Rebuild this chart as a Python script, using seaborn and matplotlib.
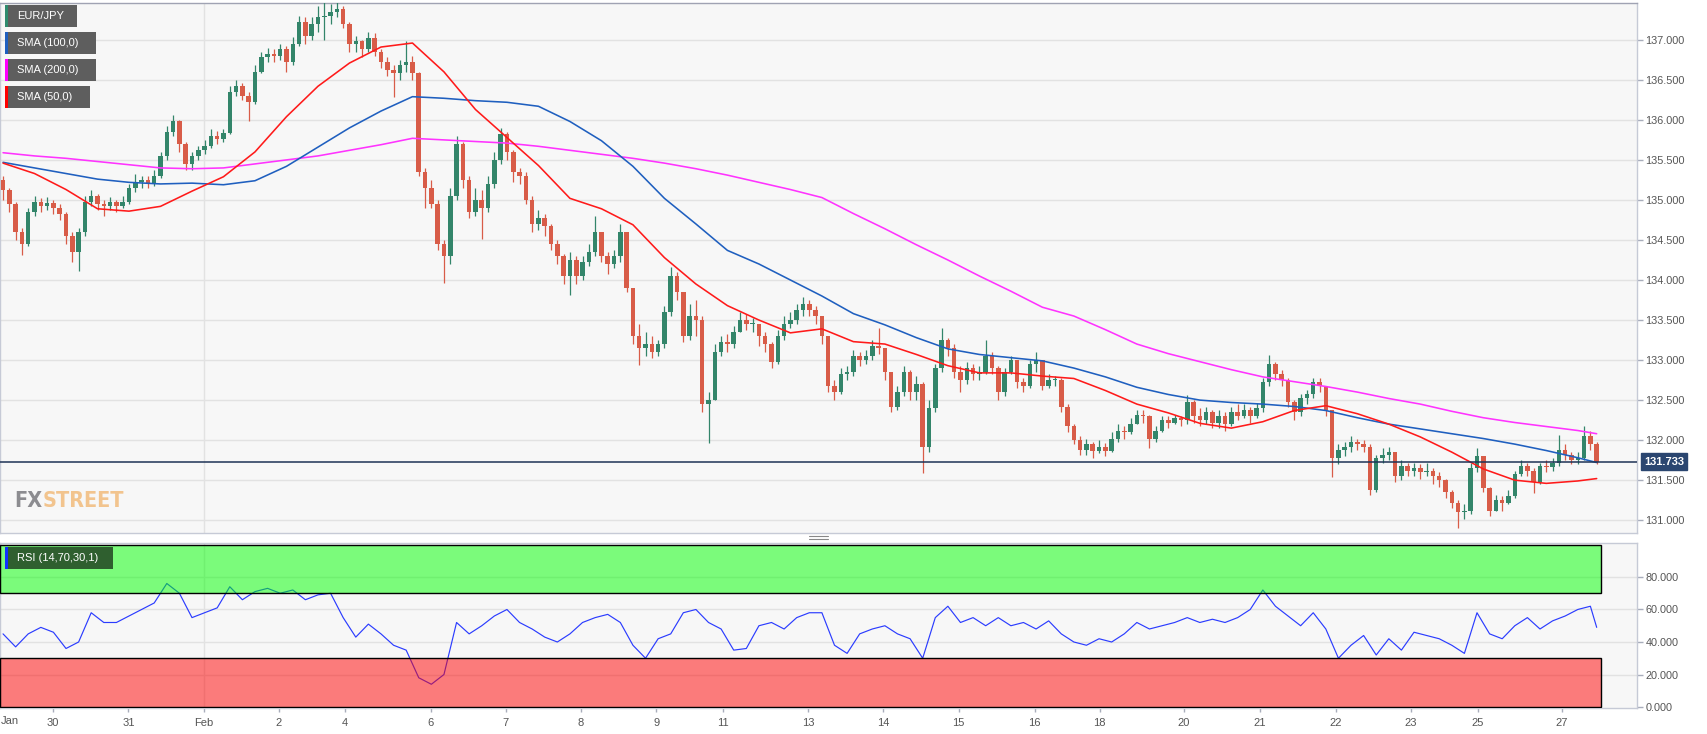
import numpy as np
import pandas as pd
import matplotlib
matplotlib.use("Agg")
import matplotlib.pyplot as plt
import seaborn as sns
from matplotlib.patches import Rectangle
from matplotlib.lines import Line2D

sns.set_theme(style="white")
plt.rcParams['font.family'] = ['Liberation Sans', 'DejaVu Sans']

# ---------------- data (2-hour candles, EUR/JPY) ----------------
close = [
135.12,134.95,134.60,134.45,134.85,134.98,134.92,134.96,134.90,134.82,
134.55,134.35,134.60,134.98,135.05,134.95,134.92,134.98,134.93,134.98,
135.15,135.22,135.25,135.20,135.30,135.55,135.85,135.98,135.70,135.45,
135.55,135.62,135.68,135.80,135.76,135.84,136.35,136.42,136.30,136.22,
136.60,136.78,136.82,136.80,136.88,136.72,136.95,137.22,137.05,137.20,
137.28,137.30,137.35,137.38,137.20,136.95,136.98,136.88,137.02,136.85,
136.72,136.62,136.58,136.68,136.72,136.58,135.35,135.15,134.95,134.45,
134.30,135.05,135.70,135.25,134.85,135.00,134.90,135.20,135.50,135.82,
135.60,135.35,135.30,135.00,134.70,134.78,134.68,134.45,134.30,134.05,
134.25,134.05,134.22,134.35,134.60,134.30,134.20,134.30,134.60,133.90,
133.30,133.15,133.20,133.10,133.20,133.60,134.05,133.85,133.30,133.55,
133.50,132.45,132.50,133.10,133.22,133.20,133.35,133.50,133.45,133.45,
133.30,133.20,132.98,133.30,133.45,133.50,133.62,133.70,133.62,133.55,
133.30,132.68,132.60,132.82,132.85,133.05,133.00,133.05,133.18,133.15,
132.85,132.42,132.60,132.85,132.60,132.70,131.92,132.40,132.90,133.25,
133.15,132.85,132.75,132.90,132.82,132.85,133.05,132.90,132.60,132.85,
133.00,132.72,132.68,132.95,133.00,132.68,132.75,132.75,132.42,132.18,
132.00,131.88,131.95,131.86,131.92,131.86,132.02,132.12,132.10,132.20,
132.32,132.30,132.02,132.12,132.25,132.22,132.28,132.25,132.48,132.30,
132.25,132.35,132.22,132.30,132.20,132.35,132.30,132.38,132.30,132.40,
132.72,132.95,132.82,132.75,132.48,132.35,132.52,132.58,132.72,132.68,
132.38,131.78,131.88,131.92,131.98,131.95,131.92,131.38,131.78,131.82,
131.85,131.55,131.68,131.62,131.65,131.60,131.62,131.55,131.50,131.35,
131.22,131.10,131.12,131.65,131.80,131.40,131.12,131.25,131.22,131.30,
131.58,131.68,131.62,131.48,131.68,131.66,131.72,131.88,131.82,131.75,
131.78,132.05,131.95,131.733]

high = [
135.30,135.15,134.98,134.65,134.90,135.05,135.02,135.04,135.00,134.95,
134.85,134.60,134.65,135.05,135.12,135.08,135.00,135.04,135.00,135.05,
135.20,135.32,135.30,135.30,135.38,135.60,135.92,136.06,136.00,135.72,
135.60,135.68,135.75,135.88,135.86,135.88,136.42,136.50,136.46,136.35,
136.68,136.85,136.90,136.88,136.95,136.92,137.03,137.30,137.28,137.28,
137.42,137.52,137.45,137.50,137.42,137.22,137.05,137.00,137.10,137.08,
136.88,136.78,136.68,136.75,136.98,136.80,136.60,135.40,135.25,135.00,
134.50,135.15,135.80,135.72,135.30,135.15,135.12,135.30,135.60,135.90,
135.85,135.62,135.40,135.35,135.05,134.88,134.82,134.70,134.50,134.32,
134.35,134.30,134.30,134.45,134.80,134.60,134.35,134.38,134.70,134.60,
133.90,133.45,133.35,133.30,133.25,133.68,134.16,134.10,133.85,133.70,
133.75,133.55,132.60,133.20,133.30,133.32,133.42,133.60,133.58,133.52,
133.45,133.35,133.22,133.38,133.55,133.60,133.70,133.79,133.75,133.68,
133.55,133.30,132.75,132.90,132.92,133.12,133.10,133.12,133.25,133.40,
133.15,132.85,132.68,132.92,132.88,132.80,132.72,132.50,132.95,133.40,
133.28,133.20,132.92,132.98,132.95,132.92,133.25,133.10,132.92,132.90,
133.05,133.00,132.78,133.00,133.10,133.00,132.82,132.80,132.78,132.45,
132.20,132.05,132.02,131.98,132.00,131.96,132.10,132.20,132.18,132.28,
132.38,132.38,132.32,132.18,132.30,132.30,132.32,132.30,132.56,132.50,
132.40,132.42,132.38,132.38,132.35,132.42,132.45,132.45,132.42,132.47,
132.78,133.06,132.98,132.88,132.78,132.50,132.58,132.62,132.78,132.78,
132.62,132.35,131.95,131.98,132.05,132.02,132.00,131.95,131.82,131.90,
131.92,131.85,131.75,131.72,131.72,131.70,131.72,131.65,131.60,131.52,
131.38,131.25,131.20,131.72,131.90,131.80,131.42,131.32,131.30,131.38,
131.62,131.75,131.72,131.65,131.72,131.75,131.78,132.06,131.95,131.85,
131.85,132.18,132.12,131.98]

low = [
135.00,134.85,134.50,134.31,134.42,134.80,134.85,134.88,134.82,134.75,
134.45,134.23,134.11,134.55,134.92,134.88,134.80,134.88,134.85,134.90,
134.95,135.10,135.15,135.15,135.18,135.28,135.50,135.80,135.60,135.38,
135.38,135.50,135.58,135.65,135.70,135.72,135.82,136.30,136.25,135.98,
136.20,136.58,136.72,136.72,136.75,136.60,136.68,136.92,136.95,137.00,
137.10,137.00,137.20,137.28,137.15,136.85,136.85,136.78,136.85,136.80,
136.65,136.55,136.29,136.50,136.60,136.50,135.30,134.90,134.90,134.38,
133.96,134.20,135.00,135.15,134.78,134.80,134.51,134.85,135.15,135.45,
135.50,135.22,135.20,134.95,134.60,134.62,134.55,134.38,134.20,133.95,
133.81,133.95,134.00,134.18,134.30,134.22,134.08,134.15,134.22,133.85,
133.20,132.94,133.05,133.02,133.05,133.15,133.55,133.75,133.22,133.25,
133.30,132.35,131.96,132.50,133.05,133.10,133.15,133.35,133.38,133.35,
133.18,133.10,132.90,132.95,133.25,133.40,133.45,133.55,133.55,133.45,
133.20,132.60,132.50,132.58,132.75,132.80,132.92,132.95,133.00,133.08,
132.75,132.35,132.38,132.55,132.50,132.50,131.59,131.85,132.35,132.85,
133.05,132.78,132.60,132.70,132.75,132.75,132.82,132.82,132.50,132.55,
132.82,132.65,132.60,132.65,132.85,132.62,132.65,132.68,132.35,132.10,
131.95,131.82,131.82,131.78,131.84,131.80,131.85,131.98,132.02,132.08,
132.20,132.22,131.90,131.98,132.10,132.15,132.20,132.18,132.20,132.22,
132.18,132.20,132.15,132.15,132.12,132.18,132.25,132.28,132.22,132.28,
132.35,132.68,132.75,132.68,132.42,132.25,132.30,132.45,132.52,132.60,
132.30,131.54,131.70,131.80,131.85,131.88,131.85,131.32,131.35,131.72,
131.75,131.48,131.50,131.55,131.55,131.52,131.55,131.45,131.42,131.28,
131.15,130.90,131.02,131.08,131.60,131.35,131.05,131.12,131.12,131.20,
131.28,131.55,131.55,131.34,131.45,131.60,131.62,131.68,131.75,131.70,
131.70,131.75,131.88,131.70]

first_open = 135.25
last_price = 131.733

# moving averages sampled every 5 candles (plus the last candle)
sma_idx = list(range(0, 251, 5)) + [253]
sma50 = [135.46,135.33,135.13,134.89,134.86,134.92,135.11,135.29,135.60,136.04,
         136.42,136.71,136.91,136.96,136.60,136.13,135.78,135.43,135.02,134.89,
         134.69,134.28,133.95,133.68,133.50,133.34,133.39,133.23,133.20,133.07,
         132.93,132.84,132.84,132.80,132.77,132.62,132.45,132.34,132.21,132.15,
         132.23,132.37,132.43,132.33,132.20,132.04,131.85,131.64,131.50,131.46,
         131.49,131.52]
sma100 = [135.47,135.40,135.33,135.26,135.22,135.20,135.21,135.19,135.24,135.42,
          135.66,135.90,136.11,136.29,136.27,136.24,136.22,136.17,135.98,135.74,
          135.42,135.02,134.70,134.37,134.20,134.00,133.80,133.58,133.44,133.28,
          133.14,133.07,133.03,132.99,132.90,132.79,132.66,132.57,132.50,132.47,
          132.45,132.42,132.37,132.28,132.20,132.14,132.08,132.02,131.95,131.87,
          131.78,131.72]
sma200 = [135.59,135.55,135.52,135.48,135.44,135.40,135.39,135.40,135.45,135.50,
          135.55,135.62,135.69,135.77,135.75,135.73,135.71,135.67,135.62,135.57,
          135.52,135.46,135.39,135.31,135.22,135.13,135.03,134.83,134.64,134.44,
          134.25,134.05,133.86,133.66,133.55,133.38,133.20,133.08,132.98,132.88,
          132.79,132.73,132.67,132.60,132.52,132.45,132.36,132.28,132.22,132.17,
          132.12,132.08]

# RSI(14) sampled every 2 candles (plus the last candle)
rsi_idx = list(range(0, 253, 2)) + [253]
rsi = [45,37,45,49,46,36,40,58,52,52,
       56,60,64,76,70,55,58,61,74,66,
       71,73,70,72,66,69,70,55,43,51,
       45,38,35,18,14,20,52,45,50,56,
       60,52,48,43,40,45,52,55,57,52,
       38,30,42,45,58,60,52,48,35,36,
       50,52,48,55,58,58,38,33,45,48,
       50,45,42,30,55,62,52,55,50,55,
       50,52,48,53,45,40,38,42,40,45,
       52,48,50,52,55,52,54,52,55,60,
       72,62,56,50,58,48,30,38,44,32,
       42,35,46,44,42,38,33,58,45,42,
       50,55,48,53,56,60,62,49]

day_ticks = [7.87, 19.9, 31.9, 43.8, 54.3, 67.9, 79.8, 91.7, 103.7, 114.3, 127.8,
             139.7, 151.7, 163.8, 174.1, 187.5, 199.5, 211.6, 223.5, 234.1, 247.5]
day_labels = ["30", "31", "Feb", "2", "4", "6", "7", "8", "9", "11", "13",
              "14", "15", "16", "18", "20", "21", "22", "23", "25", "27"]
price_ticks = [131.0, 131.5, 132.0, 132.5, 133.0, 133.5, 134.0, 134.5, 135.0,
               135.5, 136.0, 136.5, 137.0]
rsi_ticks = [0, 20, 40, 60, 80]
legend_names = ["EUR/JPY", "SMA (100,0)", "SMA (200,0)", "SMA (50,0)"]

# ---------------- figure ----------------
W, H = 1707, 734
fig = plt.figure(figsize=(W / 100, H / 100), dpi=100)
fig.patch.set_facecolor("white")

def fx(px):
    return px / W

def fy(py):
    return 1 - py / H

ax = fig.add_axes([0, fy(533), fx(1637), (533 - 3) / H])
ax_r = fig.add_axes([0, fy(708), fx(1637), (708 - 543) / H])

BG = "#f7f7f7"
GRID = "#e2e2e2"
SPINE = "#c6cad6"
GREEN = "#33856a"
RED = "#d85c48"
C50, C100, C200 = "#ff1a1a", "#1f5fbf", "#ff33ff"
XMIN, XMAX = -0.48, 259.4

n = len(close)
opens = [first_open] + close[:-1]
df = pd.DataFrame({"k": np.arange(n), "open": opens, "close": close,
                   "high": high, "low": low})
df["top"] = df[["open", "close", "high"]].max(axis=1)
df["bot"] = df[["open", "close", "low"]].min(axis=1)
df["up"] = df["close"] >= df["open"]
colors = np.where(df["up"], GREEN, RED)

for a in (ax, ax_r):
    a.set_facecolor(BG)
    for s in a.spines.values():
        s.set_color(SPINE)
        s.set_linewidth(1)
    a.set_xlim(XMIN, XMAX)
ax.spines["top"].set_color("#a0a3b3")

# main panel
ax.set_ylim(130.84, 137.46)
for t in price_ticks:
    ax.axhline(t, color=GRID, lw=1, zorder=0)
ax.axvline(day_ticks[2], color=GRID, lw=1, zorder=0)

ax.vlines(df["k"], df["bot"], df["top"], colors=colors, lw=0.9, zorder=3)
body = (df["close"] - df["open"]).abs().clip(lower=0.012)
ax.bar(df["k"], body, bottom=df[["open", "close"]].min(axis=1), width=0.72,
       color=colors, linewidth=0, zorder=4)

sns.lineplot(x=sma_idx, y=sma200, ax=ax, color=C200, linewidth=1.15, zorder=5)
sns.lineplot(x=sma_idx, y=sma100, ax=ax, color=C100, linewidth=1.15, zorder=5)
sns.lineplot(x=sma_idx, y=sma50, ax=ax, color=C50, linewidth=1.15, zorder=5)
ax.axhline(last_price, color="#1e3356", lw=1.1, zorder=6)

ax.yaxis.tick_right()
ax.set_yticks(price_ticks)
ax.set_yticklabels([f"{t:.3f}" for t in price_ticks])
ax.tick_params(axis="y", right=True, length=4, width=1, color="#a8adbb",
               labelcolor="#555555", labelsize=7.8, pad=2)
ax.set_xticks([])
ax.set_xlabel("")
ax.set_ylabel("")

ax.annotate(f"{last_price:.3f}", xy=(1.0, last_price),
            xycoords=("axes fraction", "data"), xytext=(5, 0),
            textcoords="offset points", ha="left", va="center",
            color="white", fontsize=8, fontweight="bold",
            bbox=dict(boxstyle="square,pad=0.28", fc="#2b4670", ec="#2b4670"),
            annotation_clip=False, zorder=10)

# RSI panel
ax_r.set_ylim(-0.6, 100.9)
for t in rsi_ticks[1:]:
    ax_r.axhline(t, color=GRID, lw=1, zorder=0)
ax_r.axvline(day_ticks[2], color=GRID, lw=1, zorder=0)
sns.lineplot(x=rsi_idx, y=rsi, ax=ax_r, color="#2b3cff", linewidth=0.85, zorder=3)
band_end = 253.65
ax_r.add_patch(Rectangle((XMIN, 70), band_end - XMIN, 99.7 - 70,
                         facecolor=(0, 1, 0, 0.5), edgecolor="black", lw=1, zorder=4))
ax_r.add_patch(Rectangle((XMIN, 0), band_end - XMIN, 30,
                         facecolor=(1, 0, 0, 0.5), edgecolor="black", lw=1, zorder=4))
ax_r.yaxis.tick_right()
ax_r.set_yticks(rsi_ticks)
ax_r.set_yticklabels([f"{t:.3f}" for t in rsi_ticks])
ax_r.tick_params(axis="y", right=True, length=4, width=1, color="#a8adbb",
                 labelcolor="#555555", labelsize=7.8, pad=2)
ax_r.set_xticks(day_ticks)
ax_r.set_xticklabels(day_labels)
ax_r.tick_params(axis="x", bottom=True, length=3, width=1, color="#a8adbb",
                 labelcolor="#555555", labelsize=8, pad=4)
ax_r.set_xlabel("")
ax_r.set_ylabel("")
fig.text(fx(1), fy(721), "Jan", ha="left", va="center", color="#555555", fontsize=8)

# legend tags
def tag(x, y, w, h, text, fc, strip):
    fig.add_artist(Rectangle((fx(x), fy(y + h)), w / W, h / H, transform=fig.transFigure,
                             facecolor=fc, edgecolor="none", zorder=20))
    fig.add_artist(Rectangle((fx(x), fy(y + h)), 3 / W, h / H, transform=fig.transFigure,
                             facecolor=strip, edgecolor="none", zorder=21))
    fig.text(fx(x + 12), fy(y + h / 2), text, color="white", fontsize=8,
             ha="left", va="center", zorder=22)

tag(5, 5, 72, 22, legend_names[0], "#5e5e5e", "#2e8b6e")
tag(5, 32, 91, 22, legend_names[1], "#5e5e5e", C100)
tag(5, 59, 91, 22, legend_names[2], "#5e5e5e", "#ff00ff")
tag(5, 86, 85, 22, legend_names[3], "#5e5e5e", "#ff0000")
tag(5, 547, 108, 22, "RSI (14,70,30,1)", "#2f5f2f", "#1030ff")

# watermark
wm_font = dict(fontsize=15.5, fontweight="bold", fontstretch="condensed",
               ha="left", va="center", family=["DejaVu Sans"])
t_fx = fig.text(fx(14), fy(501), "FX", color="#8c8c90", **wm_font)
fig.canvas.draw()
bb = t_fx.get_window_extent()
fig.text(bb.x1 / W, fy(501), "STREET", color="#f2c48e", **wm_font)

# panel separator grip
for yy in (536, 539):
    fig.add_artist(Line2D([fx(809), fx(828)], [fy(yy), fy(yy)], color="#888888",
                          lw=0.8, transform=fig.transFigure))

fig.savefig("out.png", dpi=100, facecolor="white")
